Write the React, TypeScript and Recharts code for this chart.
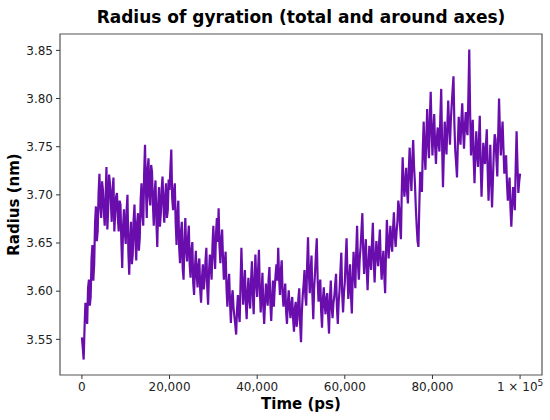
import { LineChart, Line, XAxis, YAxis, ReferenceArea } from 'recharts'

// time step between samples, in ps
const STEP = 200

// radius of gyration (nm), one sample every 200 ps
const RG = [
  3.552, 3.541, 3.529, 3.562, 3.588, 3.574, 3.566, 3.603, 3.612, 3.585, 3.594, 3.634, 3.648, 3.611, 3.628, 3.671, 3.688, 3.652, 3.662, 3.701,
  3.722, 3.688, 3.676, 3.714, 3.705, 3.683, 3.668, 3.696, 3.729, 3.664, 3.685, 3.721, 3.712, 3.694, 3.672, 3.705, 3.718, 3.662, 3.681, 3.698,
  3.702, 3.676, 3.662, 3.694, 3.69, 3.652, 3.624, 3.668, 3.685, 3.661, 3.649, 3.684, 3.7, 3.641, 3.617, 3.655, 3.672, 3.628, 3.638, 3.674,
  3.69, 3.653, 3.632, 3.671, 3.681, 3.642, 3.655, 3.694, 3.712, 3.679, 3.668, 3.721, 3.752, 3.708, 3.676, 3.727, 3.738, 3.698, 3.689, 3.731,
  3.724, 3.691, 3.668, 3.702, 3.715, 3.672, 3.646, 3.689, 3.708, 3.667, 3.68, 3.706, 3.719, 3.689, 3.671, 3.698, 3.712, 3.676, 3.684, 3.716,
  3.705, 3.728, 3.747, 3.697, 3.684, 3.703, 3.712, 3.671, 3.648, 3.679, 3.694, 3.645, 3.629, 3.661, 3.672, 3.624, 3.612, 3.653, 3.676, 3.642,
  3.631, 3.654, 3.668, 3.627, 3.614, 3.643, 3.651, 3.609, 3.596, 3.624, 3.642, 3.616, 3.604, 3.627, 3.634, 3.601, 3.588, 3.614, 3.628, 3.602,
  3.611, 3.631, 3.645, 3.604, 3.586, 3.619, 3.638, 3.626, 3.612, 3.648, 3.668, 3.637, 3.623, 3.659, 3.676, 3.651, 3.686, 3.647, 3.629, 3.653,
  3.664, 3.634, 3.612, 3.629, 3.641, 3.603, 3.584, 3.606, 3.618, 3.588, 3.567, 3.592, 3.601, 3.583, 3.574, 3.565, 3.555, 3.581, 3.596, 3.577,
  3.568, 3.607, 3.645, 3.613, 3.586, 3.603, 3.622, 3.589, 3.571, 3.598, 3.614, 3.591, 3.582, 3.611, 3.631, 3.597, 3.576, 3.612, 3.638, 3.608,
  3.594, 3.621, 3.643, 3.602, 3.578, 3.597, 3.619, 3.584, 3.566, 3.589, 3.608, 3.594, 3.585, 3.612, 3.625, 3.588, 3.569, 3.592, 3.611, 3.584,
  3.603, 3.617, 3.628, 3.611, 3.645, 3.614, 3.596, 3.621, 3.632, 3.598, 3.584, 3.597, 3.608, 3.579, 3.566, 3.588, 3.601, 3.583, 3.572, 3.586,
  3.594, 3.571, 3.558, 3.582, 3.589, 3.563, 3.571, 3.592, 3.603, 3.566, 3.547, 3.579, 3.596, 3.607, 3.622, 3.594, 3.585, 3.627, 3.656, 3.619,
  3.598, 3.621, 3.637, 3.596, 3.571, 3.603, 3.619, 3.638, 3.655, 3.612, 3.589, 3.605, 3.612, 3.579, 3.562, 3.591, 3.604, 3.586, 3.576, 3.593,
  3.598, 3.574, 3.556, 3.593, 3.611, 3.584, 3.572, 3.588, 3.594, 3.607, 3.618, 3.583, 3.566, 3.589, 3.601, 3.622, 3.64, 3.597, 3.578, 3.598,
  3.609, 3.634, 3.655, 3.617, 3.592, 3.611, 3.628, 3.596, 3.577, 3.614, 3.641, 3.619, 3.603, 3.641, 3.668, 3.628, 3.612, 3.634, 3.646, 3.663,
  3.681, 3.642, 3.618, 3.639, 3.654, 3.622, 3.601, 3.628, 3.647, 3.631, 3.622, 3.651, 3.671, 3.632, 3.609, 3.634, 3.652, 3.637, 3.626, 3.648,
  3.664, 3.631, 3.612, 3.629, 3.642, 3.617, 3.598, 3.641, 3.674, 3.652, 3.634, 3.653, 3.668, 3.649, 3.641, 3.664, 3.682, 3.658, 3.646, 3.661,
  3.672, 3.694, 3.687, 3.668, 3.654, 3.704, 3.739, 3.712, 3.698, 3.714, 3.728, 3.703, 3.691, 3.726, 3.749, 3.721, 3.704, 3.736, 3.757, 3.729,
  3.712, 3.687, 3.668, 3.652, 3.646, 3.689, 3.724, 3.711, 3.703, 3.748, 3.776, 3.742, 3.726, 3.761, 3.789, 3.754, 3.738, 3.779, 3.807, 3.768,
  3.741, 3.766, 3.784, 3.751, 3.732, 3.758, 3.77, 3.754, 3.745, 3.781, 3.81, 3.752, 3.708, 3.743, 3.776, 3.757, 3.742, 3.772, 3.798, 3.771,
  3.752, 3.778, 3.794, 3.809, 3.823, 3.774, 3.746, 3.733, 3.718, 3.754, 3.781, 3.763, 3.752, 3.778, 3.795, 3.766, 3.748, 3.771, 3.786, 3.768,
  3.762, 3.803, 3.851, 3.784, 3.741, 3.761, 3.778, 3.738, 3.712, 3.744, 3.766, 3.741, 3.729, 3.757, 3.782, 3.731, 3.698, 3.726, 3.754, 3.741,
  3.732, 3.751, 3.768, 3.726, 3.694, 3.723, 3.752, 3.714, 3.687, 3.716, 3.744, 3.763, 3.758, 3.736, 3.719, 3.762, 3.8, 3.766, 3.741, 3.759,
  3.776, 3.748, 3.722, 3.734, 3.741, 3.713, 3.694, 3.706, 3.718, 3.687, 3.667, 3.689, 3.708, 3.697, 3.684, 3.728, 3.766, 3.731, 3.702, 3.714,
  3.722,
]

const X_TICKS = [0, 20000, 40000, 60000, 80000, 100000]
const Y_TICKS = [3.55, 3.6, 3.65, 3.7, 3.75, 3.8, 3.85]
const X_DOMAIN = [-5000, 105000]
const Y_DOMAIN = [3.513, 3.867]

const data = RG.map((rg, i) => ({ t: i * STEP, rg }))

const FONT = '"DejaVu Sans", sans-serif'
const tickStyle = { fill: '#222', fontSize: 12, fontFamily: FONT }

function XTick(props: any) {
  const { x, y, payload } = props
  if (payload.value === 100000) {
    return (
      <text x={x} y={y} dy={10} textAnchor="middle" style={tickStyle}>
        1 × 10
        <tspan dy={-5} fontSize={9}>5</tspan>
      </text>
    )
  }
  return (
    <text x={x} y={y} dy={10} textAnchor="middle" style={tickStyle}>
      {payload.value.toLocaleString('en-US')}
    </text>
  )
}

export default function App() {
  return (
    <div style={{ position: 'absolute', left: 0, top: 0, width: 550, height: 420, background: '#fff' }}>
      <svg width={550} height={30} style={{ position: 'absolute', left: 0, top: 0 }}>
        <text x={301} y={23} textAnchor="middle" fontFamily={FONT} fontWeight="bold" fontSize={17} fill="#000">
          Radius of gyration (total and around axes)
        </text>
      </svg>
      <LineChart width={550} height={420} data={data} margin={{ top: 34, right: 8, bottom: 0, left: 0 }}>
        <XAxis
          dataKey="t"
          type="number"
          domain={X_DOMAIN}
          ticks={X_TICKS}
          allowDataOverflow
          tick={<XTick />}
          tickSize={4}
          tickLine={{ stroke: '#333' }}
          axisLine={false}
          height={45}
          label={{ value: 'Time (ps)', position: 'insideBottom', offset: 11, style: { fontFamily: FONT, fontWeight: 'bold', fontSize: 15, fill: '#000' } }}
        />
        <YAxis
          type="number"
          domain={Y_DOMAIN}
          ticks={Y_TICKS}
          allowDataOverflow
          tick={tickStyle}
          tickFormatter={(v: number) => v.toFixed(2)}
          tickSize={4}
          tickMargin={3}
          tickLine={{ stroke: '#333' }}
          axisLine={false}
          width={60}
          label={{ value: 'Radius (nm)', angle: -90, position: 'insideLeft', offset: 14, style: { textAnchor: 'middle', fontFamily: FONT, fontWeight: 'bold', fontSize: 15, fill: '#000' } }}
        />
        <ReferenceArea x1={X_DOMAIN[0]} x2={X_DOMAIN[1]} y1={Y_DOMAIN[0]} y2={Y_DOMAIN[1]} fill="none" stroke="#555" strokeWidth={1.2} />
        <Line dataKey="rg" type="linear" stroke="#6a0dad" strokeWidth={2.2} dot={false} isAnimationActive={false} />
      </LineChart>
    </div>
  )
}
